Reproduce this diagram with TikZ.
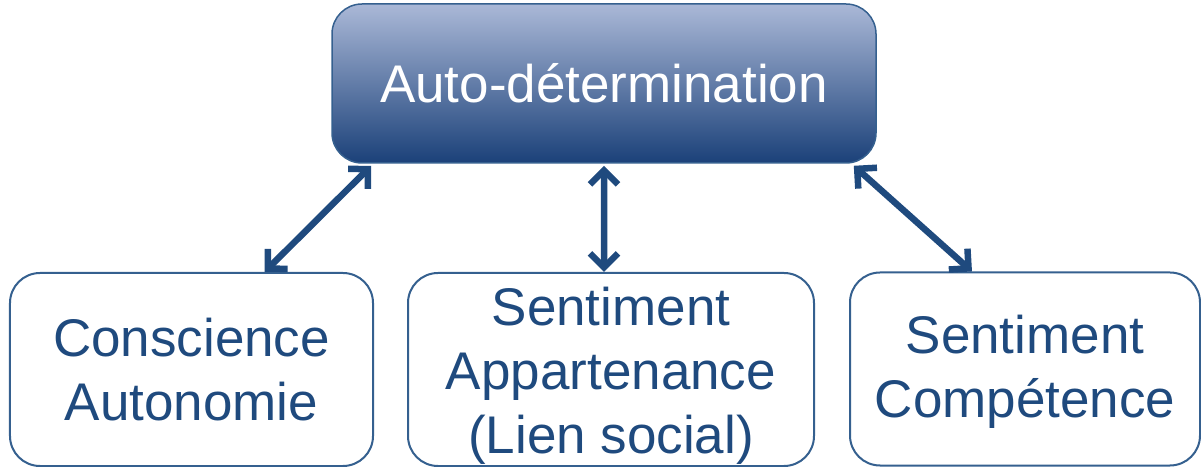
\documentclass[tikz,border=0pt]{standalone}
\usepackage{fontspec}
\setmainfont{Liberation Sans}
\usetikzlibrary{arrows.meta,positioning}
\definecolor{navy}{HTML}{1F4A7E}
\definecolor{boxline}{HTML}{35608F}
\definecolor{gradtop}{HTML}{AAB8D7}
\definecolor{gradmid}{HTML}{7D90B8}
\definecolor{gradbot}{HTML}{1B4179}
\begin{document}
\begin{tikzpicture}[x=1bp,y=-1bp,{topbox/.style={rectangle,rounded corners=30bp,draw=boxline,line width=1.5bp,top color=gradtop,middle color=gradmid,bottom color=gradbot,minimum width=544bp,minimum height=159bp,text=white,font=\fontsize{53bp}{64bp}\selectfont}},{subbox/.style={rectangle,rounded corners=30bp,draw=boxline,line width=2bp,fill=white,minimum height=193bp,text=navy,align=center,inner sep=0pt,font=\fontsize{53bp}{64bp}\selectfont}},{link/.style={color=navy,line width=6.5bp,{Straight Barb[length=14bp,width=28bp]}-{Straight Barb[length=14bp,width=28bp]}}}]
		\useasboundingbox (0,0) rectangle (1201,467);
		%%top node
		\node at (604,83.5) [topbox] (auto) {Auto-détermination};
		%%lower nodes
		\node at (191.5,369.5) [subbox,minimum width=363bp] (consc) {Conscience\\Autonomie};
		\node at (611,369.5) [subbox,minimum width=406bp] (appart) {\rule{0pt}{50bp}Sentiment\\Appartenance\\(Lien social)};
		\node at (1025,369) [subbox,minimum width=350bp] (compet) {\rule{0pt}{44bp}Sentiment\\Compétence};

		%%links
		\draw [link] ([xshift=40bp,yshift=-2bp]auto.south west) -- ([xshift=73bp]consc.north);
		\draw [link] ([yshift=-2bp]auto.south) -- ([xshift=-7bp]appart.north);
		\draw [link] ([xshift=-23bp,yshift=-2bp]auto.south east) -- ([xshift=-53bp]compet.north);
	\end{tikzpicture}
\end{document}
